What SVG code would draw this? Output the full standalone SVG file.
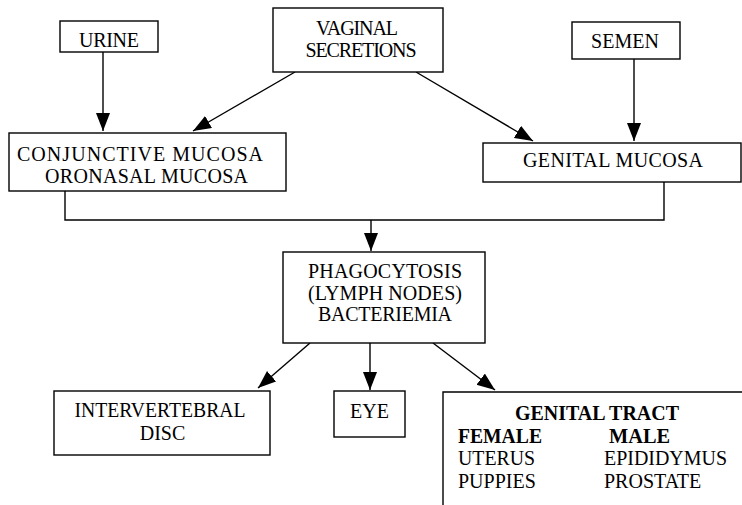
<svg xmlns="http://www.w3.org/2000/svg" width="742" height="505" viewBox="0 0 742 505">
<style>
.box{fill:#fff;stroke:#000;stroke-width:1.4}
text{font-family:'Liberation Serif','DejaVu Serif',serif;font-size:20px;fill:#000}
.m{text-anchor:middle}
.b{font-weight:bold}
.c{fill:none;stroke:#000;stroke-width:1.4}
</style>
<defs>
<marker id="ah" markerUnits="userSpaceOnUse" markerWidth="19" markerHeight="15" refX="18" refY="7" orient="auto">
<path d="M0,0 L18,7 L0,14 z" fill="#000"/>
</marker>
</defs>
<rect width="742" height="505" fill="#fff"/>
<g id="connectors">
<path class="c" d="M103,52 V131" marker-end="url(#ah)"/>
<path class="c" d="M295,72 L193,131" marker-end="url(#ah)"/>
<path class="c" d="M416,72 L533,141" marker-end="url(#ah)"/>
<path class="c" d="M634,59 V141" marker-end="url(#ah)"/>
<path class="c" d="M65,191 V220 H664 V182"/>
<path class="c" d="M371,220 V251" marker-end="url(#ah)"/>
<path class="c" d="M310,343 L258,388" marker-end="url(#ah)"/>
<path class="c" d="M370,343 V390" marker-end="url(#ah)"/>
<path class="c" d="M433,343 L495,390" marker-end="url(#ah)"/>
</g>
<g id="urine">
<rect class="box" x="60" y="21" width="98" height="31"/>
<text class="m" x="109" y="47" textLength="60" lengthAdjust="spacing">URINE</text>
</g>
<g id="vaginal">
<rect class="box" x="273" y="8" width="170" height="64"/>
<text class="m" x="357" y="35" textLength="82" lengthAdjust="spacing">VAGINAL</text>
<text class="m" x="361" y="57" textLength="111" lengthAdjust="spacing">SECRETIONS</text>
</g>
<g id="semen">
<rect class="box" x="572" y="22" width="108" height="37"/>
<text class="m" x="625" y="48" textLength="68" lengthAdjust="spacing">SEMEN</text>
</g>
<g id="conjunctive">
<rect class="box" x="9" y="133" width="277" height="58"/>
<text class="m" x="140" y="161" textLength="246" lengthAdjust="spacing">CONJUNCTIVE  MUCOSA</text>
<text class="m" x="146.5" y="183" textLength="203" lengthAdjust="spacing">ORONASAL  MUCOSA</text>
</g>
<g id="genital-mucosa">
<rect class="box" x="483" y="143" width="258" height="39"/>
<text class="m" x="613" y="167" textLength="180" lengthAdjust="spacing">GENITAL  MUCOSA</text>
</g>
<g id="phagocytosis">
<rect class="box" x="283" y="252" width="202" height="91"/>
<text class="m" x="385" y="278" textLength="154" lengthAdjust="spacing">PHAGOCYTOSIS</text>
<text class="m" x="385" y="300" textLength="154" lengthAdjust="spacing">(LYMPH NODES)</text>
<text class="m" x="385" y="321" textLength="134" lengthAdjust="spacing">BACTERIEMIA</text>
</g>
<g id="intervertebral">
<rect class="box" x="54" y="391" width="216" height="64"/>
<text class="m" x="160" y="417" textLength="171" lengthAdjust="spacingAndGlyphs">INTERVERTEBRAL</text>
<text class="m" x="162.5" y="440">DISC</text>
</g>
<g id="eye">
<rect class="box" x="334" y="391" width="71" height="46"/>
<text class="m" x="369.5" y="418">EYE</text>
</g>
<g id="genital-tract">
<path class="c" d="M443,505 V392 H742"/>
<text class="m b" x="597" y="420" textLength="164" lengthAdjust="spacingAndGlyphs">GENITAL TRACT</text>
<text class="b" x="458" y="443" textLength="84" lengthAdjust="spacingAndGlyphs">FEMALE</text>
<text class="b" x="609" y="443" textLength="61" lengthAdjust="spacingAndGlyphs">MALE</text>
<text x="458" y="465" textLength="77" lengthAdjust="spacingAndGlyphs">UTERUS</text>
<text x="604" y="465" textLength="123" lengthAdjust="spacingAndGlyphs">EPIDIDYMUS</text>
<text x="458" y="488">PUPPIES</text>
<text x="604" y="488">PROSTATE</text>
</g>
</svg>
